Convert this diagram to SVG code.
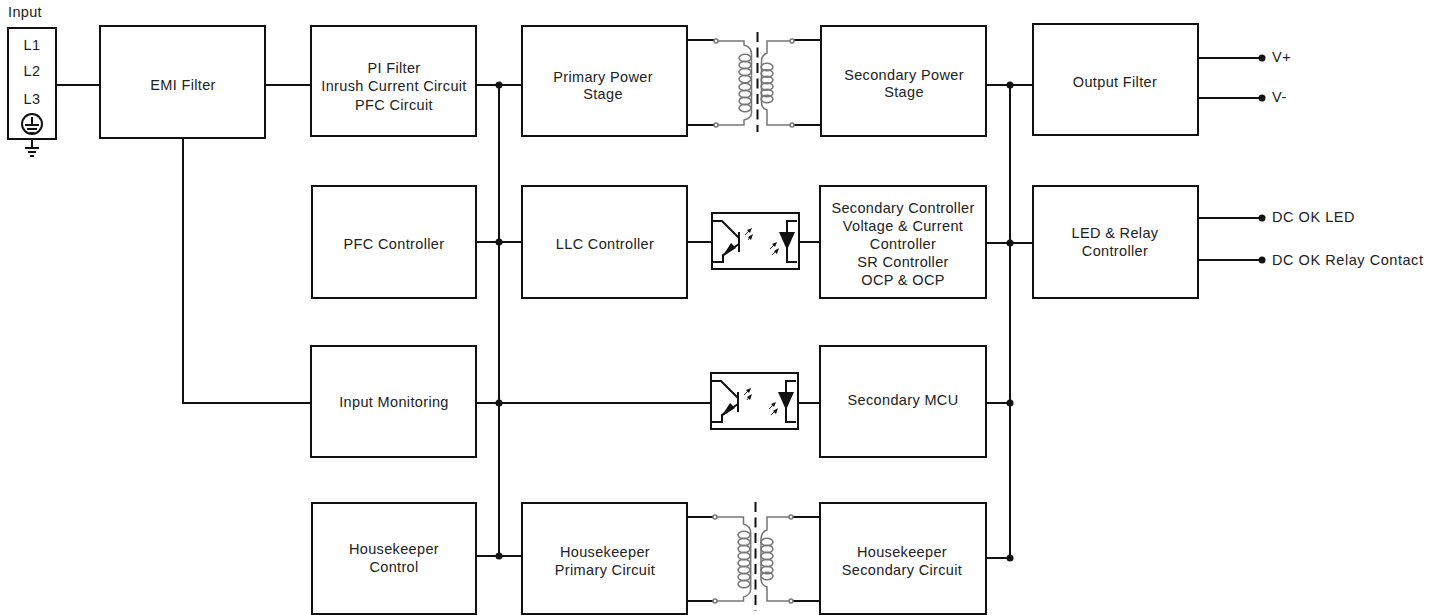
<svg xmlns="http://www.w3.org/2000/svg" xmlns:xlink="http://www.w3.org/1999/xlink" width="1442" height="615" viewBox="0 0 1442 615">
<style>
text{font-family:"Liberation Sans",Arial,sans-serif;font-size:14.5px;letter-spacing:.35px;fill:#222;text-anchor:middle}
.l{text-anchor:start}
.o{letter-spacing:.55px}
.b{fill:#fff;stroke:#111;stroke-width:2}
.w{fill:none;stroke:#111;stroke-width:2}
.g{fill:none;stroke:#777;stroke-width:1.5}
.t{fill:#fff;stroke:#777;stroke-width:1.5}
.k{fill:#111;stroke:none}
.d{stroke:#111;stroke-width:2;stroke-dasharray:10 5.500;fill:none}
.h{fill:none;stroke:#333;stroke-width:1}
</style>
<defs>
<ellipse id="c" cx="0" cy="0" rx="6" ry="3.800" class="g"/>
<g id="opto">
<rect x="712" y="213" width="87" height="56" class="b"/>
<path class="w" d="M712 221H722L739 238M739 244L723 255V262H712M739 232V252"/>
<path class="k" d="M722 257L736 248L731 243Z"/>
<path class="h" d="M745 235L751 229M748 240L752 235M770 249L776 243M772 255L778 249"/>
<path class="k" d="M752 228L747 230L750 233ZM753 234L748 237L751 240ZM777 242L772 244L775 247ZM779 248L774 251L777 254Z"/>
<path class="w" d="M797 221H787V262H797"/>
<path class="k" d="M779 232H795L787 250Z"/>
</g>
</defs>
<g id="connectors">
<path class="w" d="M56 85H100M265 85H311M476 85H522M499 85V556M183 138V403H311M476 403H712M476 556H522M476 242H522M687 242H712M799 242H820M986 85H1033M1010 85V558M986 243H1033M986 403H1010M986 558H1010M799 403H820"/>
<path class="w" d="M1198 58H1262M1198 98H1262M1198 218H1262M1198 260H1262M687 40H715M687 125H715M792 40H821M792 125H821M687 517H714M687 601H714M791 517H820M791 601H820"/>
<g class="k">
<circle cx="499" cy="85" r="3.500"/><circle cx="499" cy="242" r="3.500"/><circle cx="499" cy="403" r="3.500"/><circle cx="499" cy="556" r="3.500"/>
<circle cx="1010" cy="85" r="3.500"/><circle cx="1010" cy="243" r="3.500"/><circle cx="1010" cy="403" r="3.500"/><circle cx="1010" cy="558" r="3.500"/>
<circle cx="1262" cy="58" r="3.500"/><circle cx="1262" cy="98" r="3.500"/><circle cx="1262" cy="218" r="3.500"/><circle cx="1262" cy="260" r="3.500"/>
</g>
</g>
<g id="input">
<text class="l" x="8" y="17">Input</text>
<rect class="b" x="8" y="28" width="48" height="111"/>
<text x="32" y="50">L1</text><text x="32" y="76">L2</text><text x="32" y="104">L3</text>
<circle cx="32" cy="124" r="10" fill="none" stroke="#111" stroke-width="2"/>
<path class="w" stroke-width="2.500" d="M32 117V125M25 125H39M27 129H37M29.500 133H34.500"/>
<path class="w" stroke-width="2.500" d="M32 139V148M25 148H39M28 152H36M30 156H34"/>
</g>
<g id="emi"><rect class="b" x="100" y="26" width="165" height="112"/><text x="183" y="90">EMI Filter</text></g>
<g id="pi"><rect class="b" x="311" y="26" width="165" height="110"/><text x="394" y="73">PI Filter</text><text x="394" y="91">Inrush Current Circuit</text><text x="394" y="110">PFC Circuit</text></g>
<g id="primary"><rect class="b" x="522" y="26" width="165" height="110"/><text x="603" y="82">Primary Power</text><text x="603" y="99">Stage</text></g>
<g id="t1">
<path class="g" d="M715 41H744V45Q751.500 47 751.500 54V113Q751.500 118 744 120V125H715M792 41H767V53Q761.500 55 761.500 62V103Q761.500 108 767 110V125H792"/>
<use href="#c" xlink:href="#c" x="745" y="58"/><use href="#c" xlink:href="#c" x="745" y="65"/><use href="#c" xlink:href="#c" x="745" y="72"/><use href="#c" xlink:href="#c" x="745" y="79"/><use href="#c" xlink:href="#c" x="745" y="87"/><use href="#c" xlink:href="#c" x="745" y="94"/><use href="#c" xlink:href="#c" x="745" y="101"/><use href="#c" xlink:href="#c" x="745" y="108"/>
<use href="#c" xlink:href="#c" x="767" y="67"/><use href="#c" xlink:href="#c" x="767" y="73.500"/><use href="#c" xlink:href="#c" x="767" y="80"/><use href="#c" xlink:href="#c" x="767" y="86.500"/><use href="#c" xlink:href="#c" x="767" y="93"/><use href="#c" xlink:href="#c" x="767" y="99"/>
<path class="d" d="M757.500 32V132"/>
<circle class="t" cx="716" cy="41" r="2"/><circle class="t" cx="716" cy="125" r="2"/><circle class="t" cx="792" cy="41" r="2"/><circle class="t" cx="792" cy="125" r="2"/>
</g>
<g id="secondary"><rect class="b" x="821" y="26" width="165" height="110"/><text x="904" y="80">Secondary Power</text><text x="904" y="97">Stage</text></g>
<g id="output"><rect class="b" x="1033" y="24" width="165" height="111"/><text x="1115" y="87">Output Filter</text></g>
<text class="l o" x="1272" y="62">V+</text><text class="l o" x="1272" y="102">V-</text>
<g id="pfc"><rect class="b" x="312" y="186" width="164" height="112"/><text x="394" y="249">PFC Controller</text></g>
<g id="llc"><rect class="b" x="522" y="186" width="165" height="112"/><text x="605" y="249">LLC Controller</text></g>
<g id="o1"><use href="#opto" xlink:href="#opto"/></g>
<g id="secctl"><rect class="b" x="820" y="186" width="166" height="112"/><text x="903" y="213">Secondary Controller</text><text x="903" y="231">Voltage &amp; Current</text><text x="903" y="249">Controller</text><text x="903" y="267">SR Controller</text><text x="903" y="285">OCP &amp; OCP</text></g>
<g id="led"><rect class="b" x="1033" y="186" width="165" height="112"/><text x="1115" y="238">LED &amp; Relay</text><text x="1115" y="256">Controller</text></g>
<text class="l o" x="1272" y="222">DC OK LED</text><text class="l o" x="1272" y="265">DC OK Relay Contact</text>
<g id="inmon"><rect class="b" x="311" y="346" width="165" height="111"/><text x="394" y="407">Input Monitoring</text></g>
<g id="o2"><use href="#opto" xlink:href="#opto" y="160" x="-1"/></g>
<g id="mcu"><rect class="b" x="820" y="346" width="166" height="111"/><text x="903" y="405">Secondary MCU</text></g>
<g id="hkc"><rect class="b" x="312" y="503" width="164" height="111"/><text x="394" y="554">Housekeeper</text><text x="394" y="572">Control</text></g>
<g id="hkp"><rect class="b" x="522" y="503" width="165" height="111"/><text x="605" y="557">Housekeeper</text><text x="605" y="575">Primary Circuit</text></g>
<g id="t2">
<path class="g" d="M715 517H743.500V524Q750.700 526 750.700 533V589Q750.700 595 743.500 597V601H715M791 517H767V530Q761 532 761 539V579Q761 585 767 587V601H791"/>
<use href="#c" xlink:href="#c" x="744" y="535"/><use href="#c" xlink:href="#c" x="744" y="542"/><use href="#c" xlink:href="#c" x="744" y="549"/><use href="#c" xlink:href="#c" x="744" y="556"/><use href="#c" xlink:href="#c" x="744" y="563"/><use href="#c" xlink:href="#c" x="744" y="570"/><use href="#c" xlink:href="#c" x="744" y="577"/><use href="#c" xlink:href="#c" x="744" y="584"/>
<use href="#c" xlink:href="#c" x="767" y="542"/><use href="#c" xlink:href="#c" x="767" y="549"/><use href="#c" xlink:href="#c" x="767" y="556"/><use href="#c" xlink:href="#c" x="767" y="563"/><use href="#c" xlink:href="#c" x="767" y="570"/><use href="#c" xlink:href="#c" x="767" y="576"/>
<path class="d" d="M755.500 502V611"/>
<circle class="t" cx="715" cy="517" r="2"/><circle class="t" cx="715" cy="601" r="2"/><circle class="t" cx="791" cy="517" r="2"/><circle class="t" cx="791" cy="601" r="2"/>
</g>
<g id="hks"><rect class="b" x="820" y="503" width="166" height="111"/><text x="902" y="557">Housekeeper</text><text x="902" y="575">Secondary Circuit</text></g>
</svg>
